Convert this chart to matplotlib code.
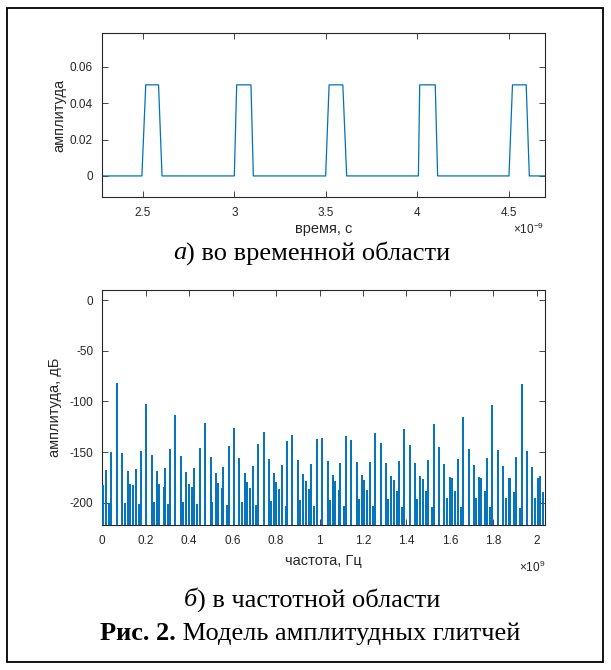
import matplotlib
matplotlib.use("Agg")
import matplotlib.pyplot as plt
from matplotlib.patches import Rectangle
from matplotlib.ticker import FuncFormatter, MultipleLocator

plt.rcParams['font.family'] = ['Liberation Sans', 'DejaVu Sans']
plt.rcParams['mathtext.fontset'] = 'custom'
plt.rcParams['mathtext.rm'] = 'Liberation Sans'
plt.rcParams['mathtext.it'] = 'Liberation Sans:italic'

# ---------------- data ----------------
# time-domain glitches (times in ns)
pulse_rise_start = [2.494, 2.999, 3.498, 4.005, 4.500]
pulse_top_start = [2.515, 3.012, 3.517, 4.012, 4.519]
pulse_top_end = [2.585, 3.090, 3.592, 4.097, 4.594]
pulse_fall_end = [2.604, 3.103, 3.613, 4.110, 4.611]
pulse_amp = [0.05, 0.05, 0.05, 0.05, 0.05]
time_start_ns = 2.2
time_end_ns = 4.8

# spectrum: frequency (GHz) and level (dB)
freq_ghz = [0.003, 0.015, 0.032, 0.041, 0.068, 0.091, 0.103, 0.118, 0.126, 0.141,
            0.153, 0.169, 0.178, 0.203, 0.229, 0.236, 0.253, 0.262, 0.282, 0.287,
            0.302, 0.313, 0.336, 0.362, 0.371, 0.385, 0.398, 0.413, 0.422, 0.436,
            0.448, 0.473, 0.499, 0.507, 0.522, 0.531, 0.549, 0.556, 0.573, 0.582,
            0.606, 0.631, 0.642, 0.657, 0.666, 0.680, 0.692, 0.708, 0.715, 0.743,
            0.767, 0.778, 0.792, 0.801, 0.815, 0.827, 0.844, 0.852, 0.875, 0.901,
            0.910, 0.926, 0.936, 0.950, 0.959, 0.976, 0.987, 1.012, 1.038, 1.047,
            1.061, 1.071, 1.088, 1.096, 1.111, 1.122, 1.147, 1.171, 1.182, 1.196,
            1.205, 1.220, 1.231, 1.246, 1.254, 1.282, 1.305, 1.315, 1.331, 1.342,
            1.355, 1.366, 1.381, 1.391, 1.417, 1.441, 1.449, 1.464, 1.475, 1.490,
            1.500, 1.518, 1.527, 1.550, 1.575, 1.586, 1.599, 1.610, 1.625, 1.636,
            1.650, 1.661, 1.687, 1.711, 1.719, 1.736, 1.745, 1.761, 1.771, 1.787,
            1.794, 1.820, 1.845, 1.857, 1.871, 1.879, 1.894, 1.906, 1.923, 1.931,
            1.957, 1.980, 1.991, 2.006, 2.015, 2.031]
level_db = [-183, -168, -200, -150, -82, -151, -200, -169, -182, -183,
            -167, -201, -149, -103, -153, -199, -169, -182, -184, -166,
            -201, -147, -113, -154, -199, -170, -182, -184, -166, -201,
            -146, -121, -155, -199, -171, -181, -185, -165, -202, -144,
            -126, -156, -199, -171, -180, -185, -164, -202, -142, -130,
            -157, -198, -171, -180, -186, -163, -203, -139, -133, -158,
            -197, -172, -179, -186, -162, -203, -137, -136, -159, -197,
            -173, -179, -187, -161, -203, -134, -138, -160, -196, -173,
            -178, -187, -160, -203, -131, -141, -161, -196, -174, -178,
            -188, -159, -204, -127, -143, -161, -196, -174, -177, -188,
            -158, -204, -122, -145, -162, -195, -175, -176, -188, -157,
            -204, -115, -147, -163, -195, -175, -176, -188, -156, -204,
            -104, -148, -164, -195, -176, -176, -189, -155, -205, -83,
            -149, -165, -195, -176, -174, -189]

# ---------------- figure ----------------
W, H = 611, 670
fig = plt.figure(figsize=(W / 100, H / 100), dpi=100)
blue = '#0072BD'
spine_col = '#262626'
tick_fs = 8.5
label_fs = 10.5

def style_axes(ax):
    for s in ax.spines.values():
        s.set_color(spine_col)
        s.set_linewidth(0.8)
    ax.tick_params(direction='in', top=True, right=True, length=4, width=0.6,
                   colors=spine_col, labelsize=tick_fs, labelcolor='#262626')
    ax.tick_params(axis='x', pad=7.5)
    ax.tick_params(axis='y', pad=6.5)

def px_axes(left, top, right, bottom):
    return fig.add_axes([left / W, 1 - bottom / H, (right - left) / W, (bottom - top) / H])

# --- top: time domain ---
ax1 = px_axes(102, 33.3, 544.5, 196.7)
t_pts = [time_start_ns]
a_pts = [0.0]
for rs, ts, te, fe, a in zip(pulse_rise_start, pulse_top_start, pulse_top_end,
                             pulse_fall_end, pulse_amp):
    t_pts += [rs, ts, te, fe]
    a_pts += [0.0, a, a, 0.0]
t_pts.append(time_end_ns)
a_pts.append(0.0)
ax1.plot([t * 1e-9 for t in t_pts], a_pts, color=blue, lw=0.9)
ax1.set_xlim(2.276e-9, 4.694e-9)
ax1.set_ylim(-0.0114, 0.0783)
ax1.xaxis.set_major_locator(MultipleLocator(0.5e-9))
ax1.yaxis.set_major_locator(MultipleLocator(0.02))
ax1.xaxis.set_major_formatter(FuncFormatter(lambda v, p: f'{round(v / 1e-9, 6):g}'))
ax1.yaxis.set_major_formatter(FuncFormatter(lambda v, p: f'{round(v, 6):g}'))
style_axes(ax1)
ax1.set_xlabel('время, с', fontsize=label_fs, color='#262626')
ax1.set_ylabel('амплитуда', fontsize=label_fs, color='#262626')
ax1.xaxis.set_label_coords(0.5, -(229 - 196.7) / 163.4)
ax1.xaxis.label.set_va('center')
ax1.yaxis.set_label_coords(-(102 - 59) / 442.5, 0.5)
ax1.yaxis.label.set_va('center')
ax1.text(1.0, -(229 - 196.7) / 163.4, r'$\times\mathregular{10^{-9}}$', transform=ax1.transAxes,
         ha='right', va='center', fontsize=8.5, color='#262626')

# --- bottom: frequency domain ---
ax2 = px_axes(102.3, 290, 545, 525)
ax2.vlines([f * 1e9 for f in freq_ghz], -400, level_db, color=blue, lw=1.4, zorder=3)
ax2.set_xlim(0, 2.038e9)
ax2.set_ylim(-222, 10)
ax2.xaxis.set_major_locator(MultipleLocator(0.2e9))
ax2.yaxis.set_major_locator(MultipleLocator(50))
ax2.xaxis.set_major_formatter(FuncFormatter(lambda v, p: f'{round(v / 1e9, 6):g}'))
ax2.yaxis.set_major_formatter(FuncFormatter(lambda v, p: f'{round(v, 6):g}'))
style_axes(ax2)
ax2.set_xlabel('частота, Гц', fontsize=label_fs, color='#262626')
ax2.set_ylabel('амплитуда, дБ', fontsize=label_fs, color='#262626')
ax2.xaxis.set_label_coords(0.5, -(561 - 525) / 235)
ax2.xaxis.label.set_va('center')
ax2.yaxis.set_label_coords(-(102.3 - 55) / 442.7, 0.5)
ax2.yaxis.label.set_va('center')
ax2.text(1.0, -(567 - 525) / 235, r'$\times\mathregular{10^{9}}$', transform=ax2.transAxes,
         ha='right', va='center', fontsize=8.5, color='#262626')

# --- outer frame ---
fig.patches.append(Rectangle((7.5 / W, 1 - 662 / H), (603 - 7.5) / W, (662 - 7.5) / H,
                             transform=fig.transFigure, fill=False, edgecolor='black',
                             lw=1.3))

# --- captions made of styled runs, centred ---
cap_fs = 19
serif = ['Liberation Serif', 'DejaVu Serif']
renderer = fig.canvas.get_renderer()

def runs_centered(x_center_px, y_center_px, runs):
    texts = []
    for s, style, weight in runs:
        texts.append(fig.text(0, 0, s, fontsize=cap_fs, family=serif, style=style,
                              weight=weight, ha='left', va='center'))
    widths = [t.get_window_extent(renderer).width for t in texts]
    x = x_center_px - sum(widths) / 2
    for t, w in zip(texts, widths):
        t.set_position((x / W, 1 - y_center_px / H))
        x += w

runs_centered(312, 253, [('а', 'italic', 'normal'), (') во временной области', 'normal', 'normal')])
runs_centered(312, 600, [('б', 'italic', 'normal'), (') в частотной области', 'normal', 'normal')])
runs_centered(310, 634, [('Рис. 2.', 'normal', 'bold'), (' Модель амплитудных глитчей', 'normal', 'normal')])

fig.savefig('out.png', dpi=100)
